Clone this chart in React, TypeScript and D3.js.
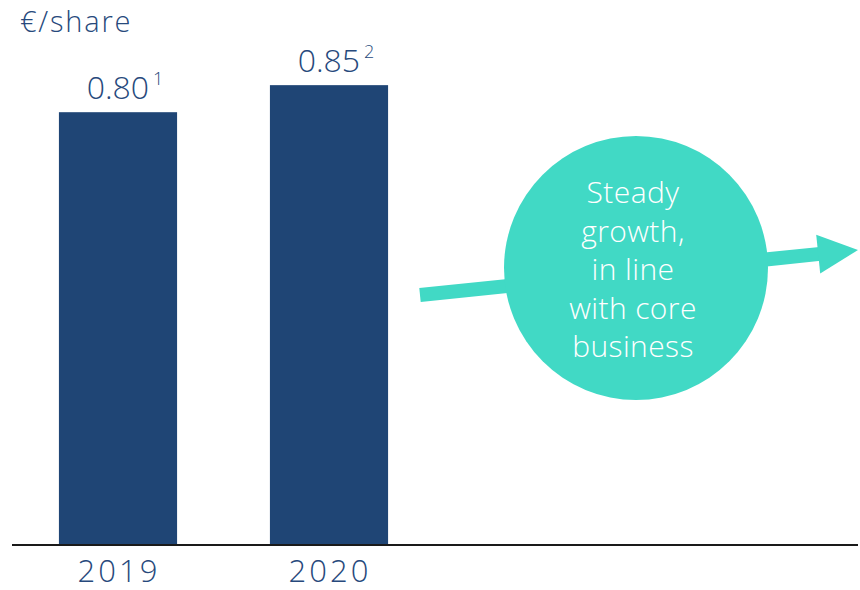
import React from "react";
import * as d3 from "d3";

const categories = ["2019", "2020"];
const values = [0.8, 0.85];
const valueLabels = ["0.80", "0.85"];
const footnotes = ["1", "2"];
const unitLabel = "€/share";
const circleLines = ["Steady", "growth,", "in line", "with core", "business"];

const W = 860;
const H = 590;
const BAR = "#1F4575";
const TEAL = "#41D9C5";
const TXT = "#27497C";
const FONT = "'Open Sans', Lato, sans-serif";
const WEIGHT = 350;

export default function App() {
  const baseY = 545;
  const x = d3
    .scaleBand<string>()
    .domain(categories)
    .range([12.5, 434.5])
    .paddingInner(0.44)
    .paddingOuter(0.22);
  const y = d3.scaleLinear().domain([0, 1]).range([baseY, 4]);

  // annotation arrow geometry
  const a0: [number, number] = [420, 295];
  const a1: [number, number] = [858, 250];
  const ang = Math.atan2(a1[1] - a0[1], a1[0] - a0[0]);
  const headLen = 40;
  const headHalf = 19.5;
  const bx = a1[0] - headLen * Math.cos(ang);
  const by = a1[1] - headLen * Math.sin(ang);
  const px = -Math.sin(ang);
  const py = Math.cos(ang);
  const head = [
    [a1[0], a1[1]],
    [bx + px * headHalf, by + py * headHalf],
    [bx - px * headHalf, by - py * headHalf],
  ]
    .map((p) => p.join(","))
    .join(" ");

  const cx = 636;
  const cy = 268;
  const r = 132;
  const lineH = 38.5;

  return (
    <svg width={W} height={H} style={{ position: "absolute", left: 0, top: 0 }}>
      <rect width={W} height={H} fill="#fff" />
      <text x={20} y={32} fontSize={29} letterSpacing={1.8} fill={TXT} fontFamily={FONT} fontWeight={WEIGHT}>
        {unitLabel}
      </text>
      {categories.map((c, i) => (
        <g key={c}>
          <rect
            x={x(c)}
            y={y(values[i])}
            width={x.bandwidth()}
            height={baseY - y(values[i])}
            fill={BAR}
          />
          <text
            x={(x(c) as number) + x.bandwidth() / 2 + 7}
            y={y(values[i]) - 13}
            textAnchor="middle"
            fontSize={32}
            fill={TXT}
            fontFamily={FONT}
            fontWeight={WEIGHT}
          >
            {valueLabels[i]}
            <tspan fontSize={18} dx={4} dy={-14}>
              {footnotes[i]}
            </tspan>
          </text>
          <text
            x={(x(c) as number) + x.bandwidth() / 2 + 1}
            y={582}
            textAnchor="middle"
            fontSize={31}
            letterSpacing={3}
            fill={TXT}
            fontFamily={FONT}
            fontWeight={WEIGHT}
          >
            {c}
          </text>
        </g>
      ))}
      <line x1={12} x2={858} y1={baseY} y2={baseY} stroke="#1a1a1a" strokeWidth={2} />
      <line
        x1={a0[0]}
        y1={a0[1]}
        x2={bx + 2 * Math.cos(ang)}
        y2={by + 2 * Math.sin(ang)}
        stroke={TEAL}
        strokeWidth={14}
      />
      <polygon points={head} fill={TEAL} />
      <circle cx={cx} cy={cy} r={r} fill={TEAL} />
      <text
        textAnchor="middle"
        fontSize={30}
        letterSpacing={0.4}
        fill="#fff"
        fontFamily={FONT}
        fontWeight={WEIGHT}
      >
        {circleLines.map((l, i) => (
          <tspan key={i} x={cx - 3} y={203 + i * lineH}>
            {l}
          </tspan>
        ))}
      </text>
    </svg>
  );
}
